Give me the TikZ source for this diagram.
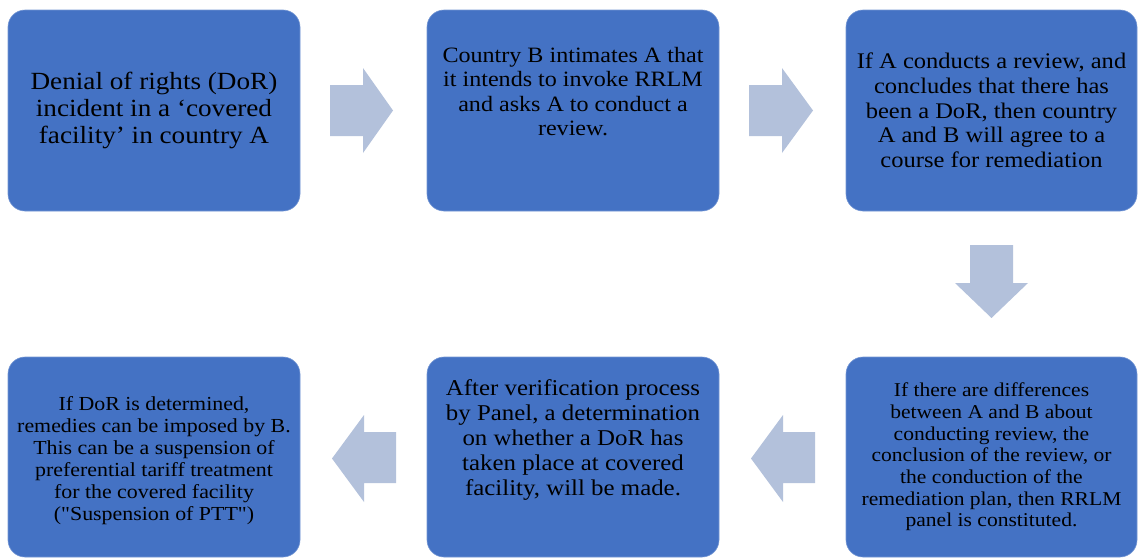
\documentclass[tikz,border=0pt]{standalone}
\usepackage{fontspec}
\setmainfont{Liberation Serif}[FakeStretch=1.1,Ligatures=TeXOff]
\usepackage{xcolor}
\definecolor{boxblue}{HTML}{4472C4}
\definecolor{arrowgray}{HTML}{B3C1DB}

\begin{document}
\begin{tikzpicture}[x=1pt,y=-1pt,
    stepbox/.style={rectangle,rounded corners=17pt,fill=boxblue,draw=boxblue!75!white,line width=0.6pt,minimum width=292pt,minimum height=201pt,inner sep=0pt},
    steptext/.style={align=center,text=black,inner sep=0pt},
    flowarrow/.style={fill=arrowgray}]
                \useasboundingbox (0,0) rectangle (1138,557);

                \node (b1) at (154,110.5) [stepbox] {};
                \node (b2) at (573,110.5) [stepbox] {};
                \node (b3) at (991.5,110.5) [stepbox,minimum width=291pt] {};
                \node (b4) at (991.5,457) [stepbox,minimum width=291pt,minimum height=200pt] {};
                \node (b5) at (573,457) [stepbox,minimum height=200pt] {};
                \node (b6) at (154,457) [stepbox,minimum height=200pt] {};

                \node (t1) at (b1) [steptext,font=\fontsize{24.7}{27.3}\selectfont] {Denial of rights (DoR)\\incident in a ‘covered\\facility’ in country A};
                \node (t2) at (b2) [steptext,yshift=19pt,font=\fontsize{21.9}{24.3}\selectfont] {Country B intimates A that\\it intends to invoke RRLM\\and asks A to conduct a\\review.};
                \node (t3) at (b3) [steptext,font=\fontsize{22.3}{24.7}\selectfont] {If A conducts a review, and\\concludes that there has\\been a DoR, then country\\A and B will agree to a\\course for remediation};
                \node (t4) at (b4) [steptext,font=\fontsize{19.6}{21.7}\selectfont] {If there are differences\\between A and B about\\conducting review, the\\conclusion of the review, or\\the conduction of the\\remediation plan, then RRLM\\panel is constituted.};
                \node (t5) at (b5) [steptext,yshift=17pt,font=\fontsize{22.6}{25}\selectfont] {After verification process\\by Panel, a determination\\on whether a DoR has\\taken place at covered\\facility, will be made.};
                \node (t6) at (b6) [steptext,yshift=-4pt,font=\fontsize{19.9}{22}\selectfont] {If DoR is determined,\\remedies can be imposed by B.\\This can be a suspension of\\preferential tariff treatment\\for the covered facility\\("Suspension of PTT")};

                % block arrows between the steps
                \fill[flowarrow] (330,85) -- (363,85) -- (363,68) -- (393,110.5) -- (363,153) -- (363,136) -- (330,136) -- cycle;
                \fill[flowarrow] (749,85) -- (782,85) -- (782,68) -- (813,110.5) -- (782,153) -- (782,136) -- (749,136) -- cycle;
                \fill[flowarrow] (970,245) -- (1013,245) -- (1013,283) -- (1028,283) -- (991.5,318) -- (955,283) -- (970,283) -- cycle;
                \fill[flowarrow] (815,432) -- (783,432) -- (783,415) -- (751,458.5) -- (783,502) -- (783,483) -- (815,483) -- cycle;
                \fill[flowarrow] (396,432) -- (364,432) -- (364,415) -- (332,458.5) -- (364,502) -- (364,483) -- (396,483) -- cycle;

            \end{tikzpicture}
\end{document}
